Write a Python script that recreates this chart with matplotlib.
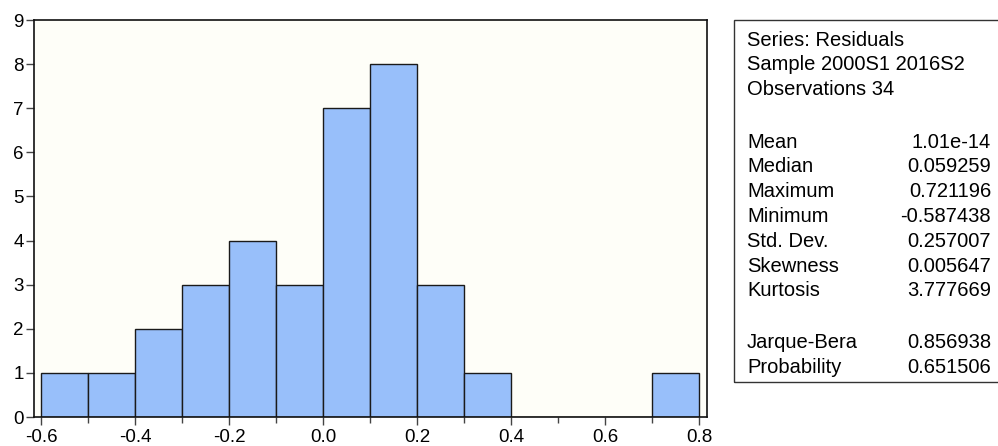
import matplotlib
matplotlib.use("Agg")
import matplotlib.pyplot as plt
from matplotlib.patches import Rectangle

plt.rcParams['font.family'] = ['Liberation Sans', 'DejaVu Sans']

# histogram of residuals (bin edges and counts)
bin_edges = [-0.6, -0.5, -0.4, -0.3, -0.2, -0.1, 0.0, 0.1, 0.2, 0.3, 0.4, 0.5, 0.6, 0.7, 0.8]
counts = [1, 1, 2, 3, 4, 3, 7, 8, 3, 1, 0, 0, 0, 1]

header_lines = ["Series: Residuals", "Sample 2000S1 2016S2", "Observations 34"]
stat_names = ["Mean", "Median", "Maximum", "Minimum", "Std. Dev.", "Skewness", "Kurtosis"]
stat_values = ["1.01e-14", "0.059259", "0.721196", "-0.587438", "0.257007", "0.005647", "3.777669"]
test_names = ["Jarque-Bera", "Probability"]
test_values = ["0.856938", "0.651506"]

W, H = 998, 446
fig = plt.figure(figsize=(W / 100, H / 100), dpi=100)
ax = fig.add_axes([34 / W, (H - 417) / H, (707 - 34) / W, (417 - 20) / H])
ax.set_facecolor('#fefef8')

widths = [bin_edges[i + 1] - bin_edges[i] for i in range(len(counts))]
ax.bar(bin_edges[:-1], counts, width=widths, align='edge',
       color='#98bffa', edgecolor='#1a1a1a', linewidth=1.0)

ax.set_xlim(-0.615, 0.817)
ax.set_ylim(0, 9)
ax.set_xticks([-0.6, -0.4, -0.2, 0.0, 0.2, 0.4, 0.6, 0.8])
ax.set_xticks([-0.5, -0.3, -0.1, 0.1, 0.3, 0.5, 0.7], minor=True)
ax.set_xticklabels(["-0.6", "-0.4", "-0.2", "0.0", "0.2", "0.4", "0.6", "0.8"])
ax.set_yticks(range(10))
ax.tick_params(axis='both', labelsize=13.5, direction='out', length=6, width=1,
               color='#444444', pad=1.5)
ax.tick_params(axis='x', pad=3)
ax.tick_params(axis='x', which='minor', length=4.5, width=1, color='#444444')
for s in ax.spines.values():
    s.set_linewidth(1.2)
    s.set_color('#111111')

# stats box
fig.patches.append(Rectangle((734 / W, (H - 382) / H), 0.5, (382 - 20) / H,
                             transform=fig.transFigure, fill=False,
                             edgecolor='#333333', linewidth=1.0))

fs = 14.5
x_left = 747 / W
x_right = 991 / W
step = 24.8
y = 40
for line in header_lines:
    fig.text(x_left, 1 - y / H, line, fontsize=fs, va='center', ha='left')
    y += step
y = 142
for name, val in zip(stat_names, stat_values):
    fig.text(x_left, 1 - y / H, name, fontsize=fs, va='center', ha='left')
    fig.text(x_right, 1 - y / H, val, fontsize=fs, va='center', ha='right')
    y += step
y = 343
for name, val in zip(test_names, test_values):
    fig.text(x_left, 1 - y / H, name, fontsize=fs, va='center', ha='left')
    fig.text(x_right, 1 - y / H, val, fontsize=fs, va='center', ha='right')
    y += step

fig.savefig("out.png", dpi=100)
